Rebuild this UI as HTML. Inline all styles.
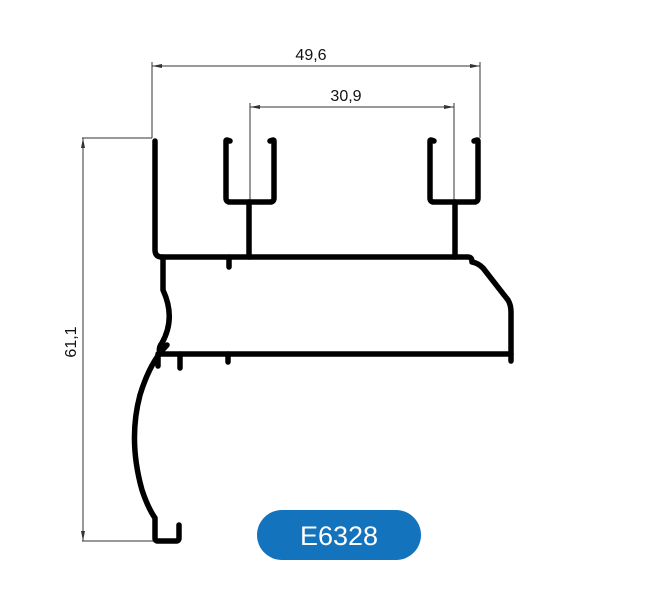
<!DOCTYPE html>
<html><head><meta charset="utf-8"><style>
html,body{margin:0;padding:0;background:#fff;}
svg{display:block;}
</style></head><body>
<svg width="646" height="605" viewBox="0 0 646 605" xmlns="http://www.w3.org/2000/svg">
<g stroke="#333" stroke-width="1" fill="none">
  <line x1="152" y1="62" x2="152" y2="138"/>
  <line x1="480" y1="62" x2="480" y2="138"/>
  <line x1="152" y1="66" x2="480" y2="66"/>
  <line x1="250" y1="103" x2="250" y2="200"/>
  <line x1="454" y1="103" x2="454" y2="200"/>
  <line x1="250" y1="107" x2="454" y2="107"/>
  <line x1="82" y1="138" x2="152" y2="138"/>
  <line x1="82" y1="541" x2="160" y2="541"/>
  <line x1="83" y1="138" x2="83" y2="541"/>
</g>
<g fill="#333">
  <polygon points="152,66 162,64 162,68"/><polygon points="480,66 470,64 470,68"/>
  <polygon points="250,107 260,105 260,109"/><polygon points="454,107 444,105 444,109"/>
  <polygon points="83,138 81,148 85,148"/><polygon points="83,541 81,531 85,531"/>
</g>
<g font-family="Liberation Sans, sans-serif" font-size="16" fill="#111" text-anchor="middle">
  <text x="311" y="60">49,6</text>
  <text x="346" y="101">30,9</text>
  <text transform="translate(76,342) rotate(-90)">61,1</text>
</g>
<g stroke="#000" stroke-width="5.5" fill="none" stroke-linecap="round" stroke-linejoin="round">
  <path d="M155,141 L155,250 Q155,257 162,257 L468,257 Q472,257 472,262 Q478,263 483,268 L508,300 Q511,305 511,312 L511,361"/>
  <path d="M163,257 L163,290 Q176,318 162,343 Q158,348 160,354 L511,354"/>
  <path d="M167,345 Q150,362 140,395 Q128,440 142,490 Q148,508 155,518 L155,538 Q155,541 158,541 L176,541 Q179,541 179,538 L179,525"/>
  <path d="M230,141 Q226,139 226,141 L226,198 Q226,202 230,202 L270,202 Q274,202 274,198 L274,141 Q274,139 270,141"/>
  <line x1="249" y1="202" x2="249" y2="257"/>
  <path d="M434,141 Q430,139 430,141 L430,198 Q430,202 434,202 L474,202 Q478,202 478,198 L478,141 Q478,139 474,141"/>
  <line x1="455" y1="202" x2="455" y2="257"/>
  <line x1="229" y1="257" x2="229" y2="267"/>
  <line x1="158" y1="354" x2="158" y2="366"/>
  <line x1="180" y1="354" x2="180" y2="368"/>
  <line x1="228" y1="354" x2="228" y2="362"/>
</g>
<rect x="257" y="510" width="164" height="50" rx="25" fill="#1473bd"/>
<text x="339" y="545" font-family="Liberation Sans, sans-serif" font-size="27" fill="#fff" text-anchor="middle">E6328</text>
</svg>
</body></html>
